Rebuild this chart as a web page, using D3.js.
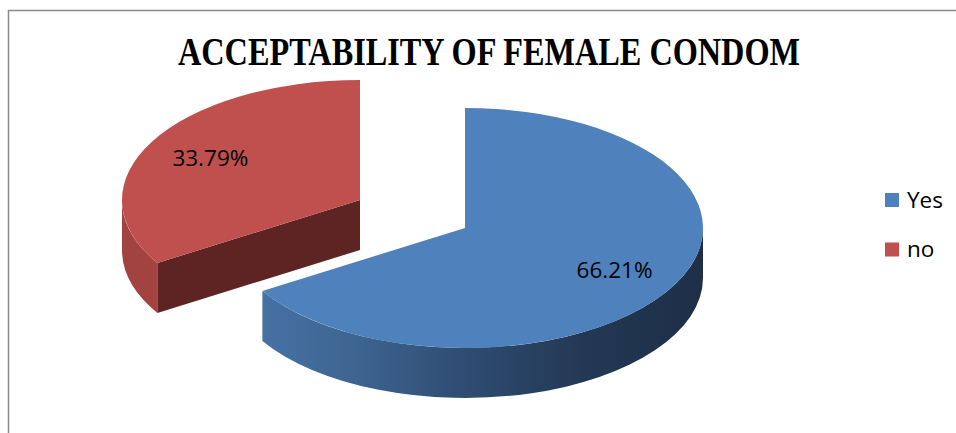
<!DOCTYPE html>
<html>
<head>
<meta charset="utf-8">
<script src="https://cdn.jsdelivr.net/npm/d3@7"></script>
<style>
  html, body { margin: 0; padding: 0; background: #ffffff; }
  svg { display: block; }
</style>
</head>
<body>
<svg id="chart" width="956" height="433"></svg>
<script>
// Chart data
const title = "ACCEPTABILITY OF FEMALE CONDOM";
const categories = ["Yes", "no"];
const values = [66.21, 33.79];
const valueLabels = ["66.21%", "33.79%"];

// Colours per category: top face, outer rim, cut face
const topColors = { "Yes": "#4f81bd", "no": "#c0504d" };
const rimColors = { "Yes": "url(#rimBlue)", "no": "#a3433f" };
const cutColors = { "Yes": "#1f3350", "no": "#5e2424" };

// Layout of the 3D pie
const W = 956, H = 433;
const cx = 465, cy = 228;      // centre of the pie's top face
const rx = 238, ry = 120;      // projected ellipse radii
const depth = 50;              // thickness of the pie
const explode = { "Yes": [0, 0], "no": [-105, -28] };
const labelRadius = 0.72;
const bodyFont = "'Open Sans', Lato, sans-serif";

const svg = d3.select("#chart");

// Outer frame (left and top edges visible)
svg.append("path")
  .attr("d", `M8.5,${H} L8.5,10.5 L${W},10.5`)
  .attr("fill", "none")
  .attr("stroke", "#8a8a8a")
  .attr("stroke-width", 1.5);

// Gradient for the blue outer rim: lighter at the left, darker to the right
const defs = svg.append("defs");
const g = defs.append("linearGradient")
  .attr("id", "rimBlue")
  .attr("gradientUnits", "userSpaceOnUse")
  .attr("x1", cx - rx).attr("y1", 0)
  .attr("x2", cx + rx).attr("y2", 0);
[[0, "#4a76aa"], [0.25, "#3f6693"], [0.5, "#2f4c72"], [0.75, "#233853"], [1, "#1e2f47"]]
  .forEach(([o, c]) => g.append("stop").attr("offset", o).attr("stop-color", c));

// Title
svg.append("text")
  .attr("x", 489)
  .attr("y", 65)
  .attr("text-anchor", "middle")
  .attr("font-family", "'Liberation Serif', 'Times New Roman', serif")
  .attr("font-weight", "bold")
  .attr("font-size", 39)
  .attr("textLength", 622)
  .attr("lengthAdjust", "spacingAndGlyphs")
  .attr("fill", "#000")
  .text(title);

// Pie layout: clockwise from 12 o'clock, in data order
const pie = d3.pie().sort(null).value(d => d.value).startAngle(0).endAngle(2 * Math.PI);
const data = categories.map((c, i) => ({ category: c, value: values[i], label: valueLabels[i] }));
const arcs = pie(data);

function pt(a, ox, oy, dy = 0, f = 1) {
  return [ox + rx * f * Math.sin(a), oy - ry * f * Math.cos(a) + dy];
}

function topPath(a0, a1, ox, oy) {
  const p0 = pt(a0, ox, oy), p1 = pt(a1, ox, oy);
  const large = (a1 - a0) > Math.PI ? 1 : 0;
  return `M${ox},${oy} L${p0[0]},${p0[1]} A${rx},${ry} 0 ${large} 1 ${p1[0]},${p1[1]} Z`;
}

function rimPath(a0, a1, ox, oy) {
  const p0 = pt(a0, ox, oy), p1 = pt(a1, ox, oy);
  const q0 = pt(a0, ox, oy, depth), q1 = pt(a1, ox, oy, depth);
  const large = (a1 - a0) > Math.PI ? 1 : 0;
  return `M${p0[0]},${p0[1]} A${rx},${ry} 0 ${large} 1 ${p1[0]},${p1[1]}` +
         ` L${q1[0]},${q1[1]} A${rx},${ry} 0 ${large} 0 ${q0[0]},${q0[1]} Z`;
}

function cutPath(a, ox, oy) {
  const p = pt(a, ox, oy);
  return `M${ox},${oy} L${p[0]},${p[1]} L${p[0]},${p[1] + depth} L${ox},${oy + depth} Z`;
}

// Draw the exploded (back) slice first, then the front one
const order = arcs.slice().sort((a, b) => (a.data.category === "no" ? -1 : 1) - (b.data.category === "no" ? -1 : 1));

order.forEach(d => {
  const cat = d.data.category;
  const ox = cx + explode[cat][0], oy = cy + explode[cat][1];
  const grp = svg.append("g").attr("class", "slice");

  // Outer rim: only the front half of the ellipse (angles between 90° and 270°) is visible
  const v0 = Math.max(d.startAngle, Math.PI / 2), v1 = Math.min(d.endAngle, 3 * Math.PI / 2);
  if (v1 > v0) {
    grp.append("path").attr("d", rimPath(v0, v1, ox, oy)).attr("fill", rimColors[cat]);
  }
  // Cut faces facing the viewer
  if (Math.sin(d.startAngle) < -1e-6) {
    grp.append("path").attr("d", cutPath(d.startAngle, ox, oy)).attr("fill", cutColors[cat]);
  }
  if (Math.sin(d.endAngle) > 1e-6) {
    grp.append("path").attr("d", cutPath(d.endAngle, ox, oy)).attr("fill", cutColors[cat]);
  }
  // Top face
  grp.append("path").attr("d", topPath(d.startAngle, d.endAngle, ox, oy)).attr("fill", topColors[cat]);

  // Value label
  const mid = (d.startAngle + d.endAngle) / 2;
  const lp = pt(mid, ox, oy, 0, labelRadius);
  grp.append("text")
    .attr("x", lp[0])
    .attr("y", lp[1])
    .attr("dy", "0.36em")
    .attr("text-anchor", "middle")
    .attr("font-family", bodyFont)
    .attr("font-size", 22.5)
    .attr("fill", "#000")
    .text(d.data.label);
});

// Legend
const legend = svg.append("g").attr("transform", "translate(885,193)");
categories.forEach((c, i) => {
  const row = legend.append("g").attr("transform", `translate(0,${i * 49.5})`);
  row.append("rect").attr("width", 14).attr("height", 14).attr("fill", topColors[c]);
  row.append("text")
    .attr("x", 22)
    .attr("y", 14.5)
    .attr("font-family", bodyFont)
    .attr("font-size", 22.5)
    .attr("fill", "#000")
    .text(c);
});
</script>
</body>
</html>
